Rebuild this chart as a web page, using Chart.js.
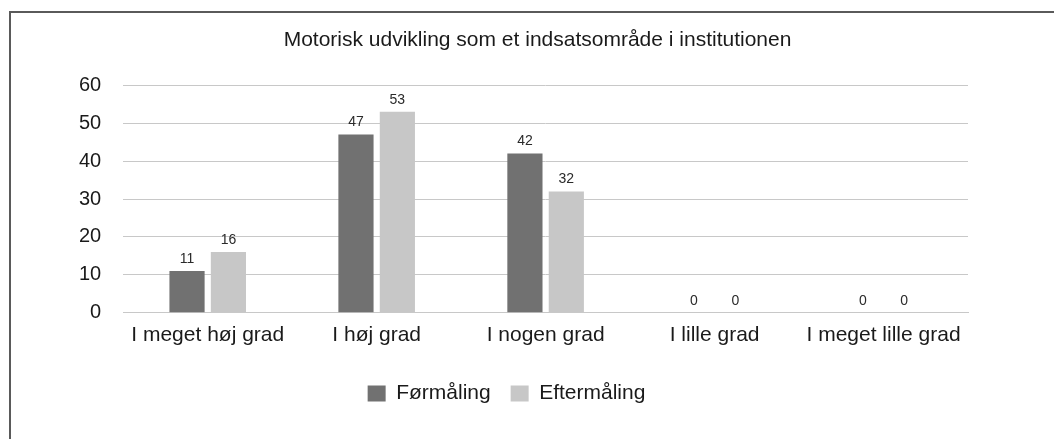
<!DOCTYPE html>
<html>
<head>
<meta charset="utf-8">
<script src="https://cdn.jsdelivr.net/npm/chart.js@4.4.0/dist/chart.umd.min.js"></script>
<style>
  html, body { margin: 0; padding: 0; background: #fff; }
  #wrap { position: relative; width: 1054px; height: 439px; overflow: hidden; }
  #frame { position: absolute; left: 9px; top: 11px; width: 1100px; height: 500px;
           border-left: 2px solid #5a5a5a; border-top: 2px solid #5a5a5a; }
  #grafica { position: absolute; left: 0; top: 0; }
</style>
</head>
<body>
<div id="wrap">
  <div id="frame"></div>
  <canvas id="grafica" width="1054" height="439"></canvas>
</div>
<script>
// Datos
var categorias = ["I meget høj grad", "I høj grad", "I nogen grad", "I lille grad", "I meget lille grad"];
var formaling = [11, 47, 42, 0, 0];
var eftermaling = [16, 53, 32, 0, 0];
var seriesNombres = ["Førmåling", "Eftermåling"];
var ticksY = [0, 10, 20, 30, 40, 50, 60];

var fuente = "'Liberation Sans', Arial, sans-serif";

// Etiquetas con el valor encima de cada barra
var etiquetasValor = {
  id: "etiquetasValor",
  afterDatasetsDraw: function (chart) {
    var ctx = chart.ctx;
    ctx.save();
    ctx.font = "14px " + fuente;
    ctx.fillStyle = "#2a2a2a";
    ctx.textAlign = "center";
    ctx.textBaseline = "bottom";
    chart.data.datasets.forEach(function (ds, i) {
      chart.getDatasetMeta(i).data.forEach(function (bar, j) {
        ctx.fillText(ds.data[j], bar.x, bar.y - 5);
      });
    });
    ctx.restore();
  }
};

// Mover titulo y leyenda como en el original
var moverCajas = {
  id: "moverCajas",
  afterLayout: function (chart) {
    chart.titleBlock.left += 25; chart.titleBlock.right += 25;
    chart.legend.left -= 6; chart.legend.right -= 6;
    chart.legend.top += 13; chart.legend.bottom += 13;
  }
};

var grafica = new Chart(document.getElementById("grafica"), {
  type: "bar",
  data: {
    labels: categorias,
    datasets: [{
      label: seriesNombres[0],
      data: formaling,
      backgroundColor: "#717171",
      barPercentage: 0.85,
      categoryPercentage: 0.49
    }, {
      label: seriesNombres[1],
      data: eftermaling,
      backgroundColor: "#c7c7c7",
      barPercentage: 0.85,
      categoryPercentage: 0.49
    }]
  },
  options: {
    responsive: false,
    animation: false,
    layout: { padding: { left: 57, right: 86, top: 20, bottom: 38 } },
    plugins: {
      title: {
        display: true,
        text: "Motorisk udvikling som et indsatsområde i institutionen",
        color: "#1a1a1a",
        font: { family: fuente, size: 21, weight: "normal" },
        padding: { top: 8, bottom: 32 }
      },
      legend: {
        position: "bottom",
        labels: {
          color: "#1a1a1a",
          font: { family: fuente, size: 21 },
          boxWidth: 18,
          boxHeight: 16,
          padding: 20
        }
      },
      tooltip: { enabled: false }
    },
    scales: {
      x: {
        grid: { display: false },
        border: { display: true, color: "#c8c8c8" },
        ticks: { color: "#1a1a1a", font: { family: fuente, size: 21 }, padding: 2, maxRotation: 0 }
      },
      y: {
        min: 0,
        max: 60,
        afterBuildTicks: function (scale) {
          scale.ticks = ticksY.map(function (v) { return { value: v }; });
        },
        grid: { color: "#c8c8c8", drawTicks: false },
        border: { display: false },
        ticks: { color: "#1a1a1a", font: { family: fuente, size: 20 }, padding: 22 }
      }
    }
  },
  plugins: [etiquetasValor, moverCajas]
});
</script>
</body>
</html>
